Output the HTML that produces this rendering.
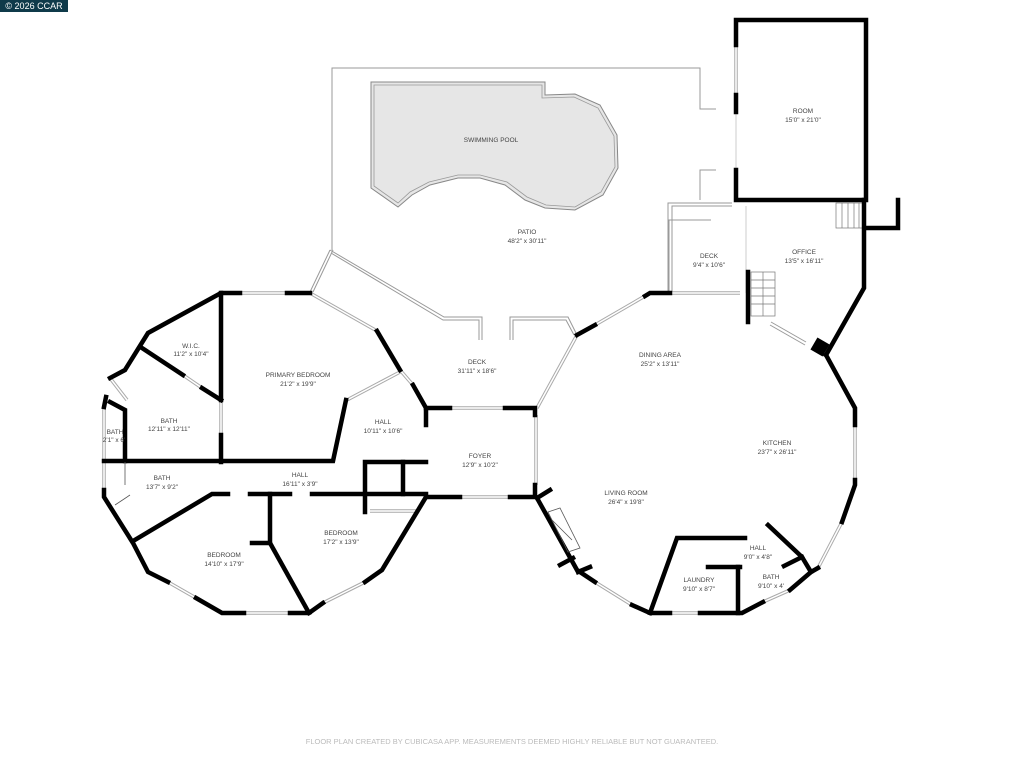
<!DOCTYPE html>
<html><head><meta charset="utf-8"><style>
html,body{margin:0;padding:0;background:#fff;width:1024px;height:768px;overflow:hidden}
svg{display:block}
text{font-family:"Liberation Sans",sans-serif;fill:#444;font-size:6.5px;text-anchor:middle}
</style></head><body>
<svg width="1024" height="768" viewBox="0 0 1024 768">
<rect x="0" y="0" width="68" height="12" fill="#0f3a4a"/>
<text x="34" y="9" style="fill:#fff;font-size:9px">© 2026 CCAR</text>

<g fill="none" stroke="#999" stroke-width="1">
<polyline points="332,250 332,68 700,68 700,109 716,109"/>
<polyline points="700,200 700,170 716,170"/>
<polyline points="330,250 310,292"/>
<polyline points="333,250 313,292"/>
<polyline points="330,250 444,317 482,317 482,340"/>
<polyline points="331,253 443,320 479,320 479,340"/>
<polyline points="510,340 510,317 568,317 577,335"/>
<polyline points="513,340 513,320 566,320 574,335"/>
<polyline points="668,293 668,203 732,203"/>
<polyline points="672,293 672,206 732,206"/>
<polyline points="669,293 669,220 711,220"/>
<polyline points="746,206 746,293" stroke="#ccc"/>
<polyline points="770,325 805,345"/>
<polyline points="771,322 806,342"/>
</g>
<polygon points="371,82 545,82 545,95 575,94 600,105 617,135 618,168 603,195 575,210 545,208 525,200 505,185 480,178 458,178 430,185 412,195 398,207 371,188" fill="#e6e6e6" stroke="#888" stroke-width="1"/>
<polygon points="374,85 542,85 542,98 574,97 598,108 614,136 615,167 601,192 575,207 546,205 527,197 507,182 480,175 458,175 429,182 410,192 398,203 374,186" fill="none" stroke="#999" stroke-width="0.8"/>

<g stroke="#777" stroke-width="0.7" fill="none">
<rect x="836" y="203" width="28" height="25"/>
<line x1="842" y1="203" x2="842" y2="228"/><line x1="848" y1="203" x2="848" y2="228"/><line x1="854" y1="203" x2="854" y2="228"/><line x1="859" y1="203" x2="859" y2="228"/>
<rect x="751" y="272" width="24" height="44"/>
<line x1="751" y1="280" x2="775" y2="280"/><line x1="751" y1="288" x2="775" y2="288"/><line x1="751" y1="296" x2="775" y2="296"/><line x1="751" y1="304" x2="775" y2="304"/><line x1="763" y1="272" x2="763" y2="316"/>
</g>

<defs>
<g id="w">
<line x1="240" y1="293" x2="287" y2="293"/>
<line x1="310" y1="293" x2="377" y2="331"/>
<line x1="400" y1="370" x2="413" y2="385"/>
<line x1="347" y1="400" x2="400" y2="372"/>
<line x1="104" y1="407" x2="104" y2="490"/>
<line x1="110" y1="378" x2="127" y2="400"/>
<line x1="168" y1="582" x2="196" y2="598"/>
<line x1="244" y1="613" x2="290" y2="613"/>
<line x1="323" y1="603" x2="365" y2="582"/>
<line x1="450" y1="408" x2="505" y2="408"/>
<line x1="460" y1="497" x2="510" y2="497"/>
<line x1="370" y1="511" x2="418" y2="511"/>
<line x1="577" y1="335" x2="537" y2="408"/>
<line x1="536" y1="415" x2="536" y2="485"/>
<line x1="595" y1="325" x2="645" y2="296"/>
<line x1="670" y1="293" x2="740" y2="293"/>
<line x1="855" y1="425" x2="855" y2="480"/>
<line x1="842" y1="522" x2="818" y2="568"/>
<line x1="763" y1="602" x2="790" y2="590"/>
<line x1="670" y1="613" x2="700" y2="613"/>
<line x1="595" y1="582" x2="632" y2="605"/>
<line x1="736" y1="45" x2="736" y2="95"/>
<line x1="221" y1="400" x2="221" y2="435"/>
<line x1="202" y1="388" x2="183" y2="375"/>
</g>
</defs>
<g stroke="#aaa" stroke-width="3.5" fill="none"><use href="#w"/></g>
<g stroke="#fff" stroke-width="1.5" fill="none"><use href="#w"/></g>
<line x1="736" y1="112" x2="736" y2="170" stroke="#ccc" stroke-width="1"/>

<g stroke="#000" stroke-width="4.5" fill="none" stroke-linejoin="miter" stroke-linecap="square">
<polyline points="240,293 221,293 148,333 125,370 110,378"/>
<polyline points="287,293 310,293"/>
<polyline points="377,331 400,370"/>
<polyline points="413,385 426,408 426,425"/>
<polyline points="104,407 106,397"/>
<polyline points="104,490 104,497 133,543 148,572 168,582"/>
<polyline points="196,598 222,613 244,613"/>
<polyline points="290,613 309,613 323,603"/>
<polyline points="365,582 382,570 426,497"/>
<polyline points="221,293 221,400"/>
<polyline points="221,435 221,462"/>
<polyline points="104,461 333,461 346,400"/>
<polyline points="142,348 183,375"/>
<polyline points="202,388 221,400"/>
<polyline points="110,402 125,410 125,461"/>
<polyline points="133,541 212,494 228,494"/>
<polyline points="250,494 290,494"/>
<polyline points="312,494 426,494"/>
<polyline points="270,494 270,543 252,543"/>
<polyline points="270,543 309,613"/>
<polyline points="365,512 365,462 426,462"/>
<polyline points="403,462 403,494"/>
<polyline points="426,408 450,408"/>
<polyline points="505,408 535,408 535,415"/>
<polyline points="426,497 460,497"/>
<polyline points="510,497 535,497 535,485"/>
<polyline points="577,335 595,325"/>
<polyline points="645,296 650,293 670,293"/>
<polyline points="748,272 748,322"/>
<polyline points="826,355 855,408 855,425"/>
<polyline points="855,480 855,485 842,522"/>
<polyline points="818,568 811,572 790,590"/>
<polyline points="763,602 742,613 700,613"/>
<polyline points="670,613 650,613 632,605"/>
<polyline points="595,582 577,570 537,498"/>
<polyline points="537,498 550,490"/>
<polyline points="560,565 573,558"/>
<polyline points="578,572 590,567"/>
<polyline points="650,613 677,538 745,538"/>
<polyline points="708,567 740,567"/>
<polyline points="738,567 738,613"/>
<polyline points="768,525 802,557 811,572"/>
<polyline points="784,566 802,557"/>
<polyline points="736,45 736,20 866,20 866,200 736,200 736,170"/>
<polyline points="736,95 736,112"/>
<polyline points="866,228 898,228 898,200"/>
<polyline points="864,200 864,288 826,355"/>
</g>
<rect x="813" y="340" width="14" height="14" fill="#000" transform="rotate(30 820 347)"/>
<g stroke="#555" stroke-width="0.8" fill="none">
<polygon points="548,512 560,508 580,548 568,552"/>
<line x1="552" y1="520" x2="572" y2="540"/>
<line x1="115" y1="505" x2="130" y2="495"/>
<line x1="125" y1="462" x2="125" y2="485"/>
</g>

<text x="803" y="113">ROOM</text><text x="803" y="122">15'0" x 21'0"</text>
<text x="491" y="142">SWIMMING POOL</text>
<text x="527" y="234">PATIO</text><text x="527" y="243">48'2" x 30'11"</text>
<text x="709" y="258">DECK</text><text x="709" y="267">9'4" x 10'6"</text>
<text x="804" y="254">OFFICE</text><text x="804" y="263">13'5" x 16'11"</text>
<text x="191" y="348">W.I.C.</text><text x="191" y="356">11'2" x 10'4"</text>
<text x="298" y="377">PRIMARY BEDROOM</text><text x="298" y="386">21'2" x 19'9"</text>
<text x="477" y="364">DECK</text><text x="477" y="373">31'11" x 18'6"</text>
<text x="660" y="357">DINING AREA</text><text x="660" y="366">25'2" x 13'11"</text>
<text x="169" y="423">BATH</text><text x="169" y="431">12'11" x 12'11"</text>
<text x="115" y="434">BATH</text><text x="114" y="442">2'1" x 6'</text>
<text x="383" y="424">HALL</text><text x="383" y="433">10'11" x 10'6"</text>
<text x="777" y="445">KITCHEN</text><text x="777" y="454">23'7" x 26'11"</text>
<text x="480" y="458">FOYER</text><text x="480" y="467">12'9" x 10'2"</text>
<text x="162" y="480">BATH</text><text x="162" y="489">13'7" x 9'2"</text>
<text x="300" y="477">HALL</text><text x="300" y="486">16'11" x 3'9"</text>
<text x="626" y="495">LIVING ROOM</text><text x="626" y="504">26'4" x 19'8"</text>
<text x="341" y="535">BEDROOM</text><text x="341" y="544">17'2" x 13'9"</text>
<text x="758" y="550">HALL</text><text x="758" y="559">9'0" x 4'8"</text>
<text x="224" y="557">BEDROOM</text><text x="224" y="566">14'10" x 17'9"</text>
<text x="699" y="582">LAUNDRY</text><text x="699" y="591">9'10" x 8'7"</text>
<text x="771" y="579">BATH</text><text x="771" y="588">9'10" x 4'</text>
<text x="512" y="744" style="fill:#bbb;font-size:7.5px">FLOOR PLAN CREATED BY CUBICASA APP. MEASUREMENTS DEEMED HIGHLY RELIABLE BUT NOT GUARANTEED.</text>
</svg>
</body></html>
